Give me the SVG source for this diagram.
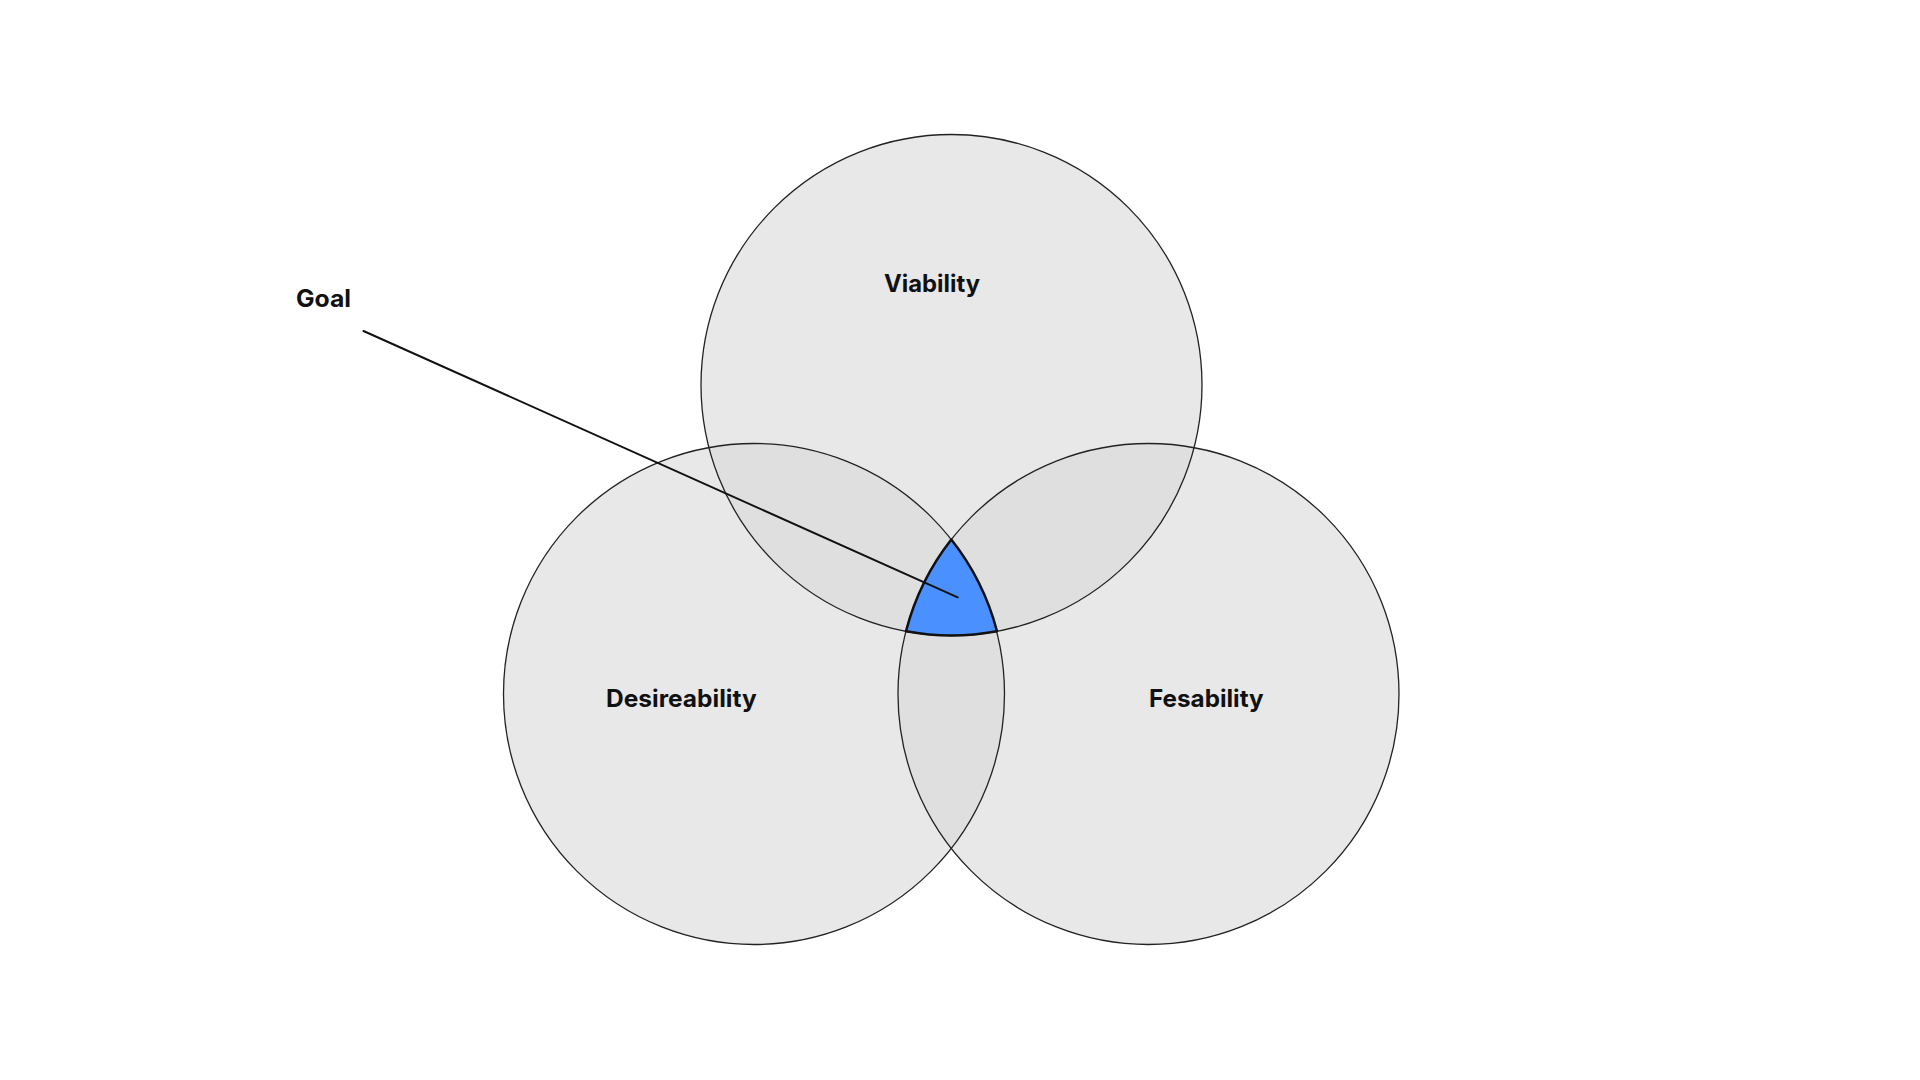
<svg xmlns="http://www.w3.org/2000/svg" width="1920" height="1080" viewBox="0 0 1920 1080">
  <defs>
    <circle id="c-viability" cx="951.5" cy="385" r="250.5"/>
    <circle id="c-desireability" cx="754" cy="694" r="250.5"/>
    <circle id="c-fesability" cx="1148.5" cy="694" r="250.5"/>
  </defs>
  <style>
    .fill { fill: #d9d9d9; fill-opacity: 0.6; stroke: none; }
    .outline { fill: none; stroke: #222222; stroke-width: 1.3; }
    .label { font-family: Inter, "Liberation Sans", sans-serif; font-weight: 700; font-size: 24px; fill: #111111; }
    .goal { fill: #4a90ff; stroke: #111111; stroke-width: 2.5; stroke-linejoin: round; }
    .connector { stroke: #111111; stroke-width: 2; fill: none; stroke-linecap: round; }
  </style>
  <rect x="0" y="0" width="1920" height="1080" fill="#ffffff"/>
  <g id="node-viability">
    <use href="#c-viability" class="fill"/>
  </g>
  <g id="node-desireability">
    <use href="#c-desireability" class="fill"/>
  </g>
  <g id="node-fesability">
    <use href="#c-fesability" class="fill"/>
  </g>
  <g id="outlines">
    <use href="#c-viability" class="outline"/>
    <use href="#c-desireability" class="outline"/>
    <use href="#c-fesability" class="outline"/>
  </g>
  <g id="node-intersection">
    <path class="goal" d="M 951.3 539.6 A 250.5 250.5 0 0 0 906 631.3 A 250.5 250.5 0 0 0 997 631.3 A 250.5 250.5 0 0 0 951.3 539.6 Z"/>
  </g>
  <g id="labels">
    <text class="label" x="884" y="292" textLength="96" lengthAdjust="spacingAndGlyphs">Viability</text>
    <text class="label" x="606" y="707" textLength="150.7" lengthAdjust="spacingAndGlyphs">Desireability</text>
    <text class="label" x="1149" y="707" textLength="114.7" lengthAdjust="spacingAndGlyphs">Fesability</text>
  </g>
  <g id="node-goal">
    <text class="label" x="296" y="307" textLength="55" lengthAdjust="spacingAndGlyphs">Goal</text>
  </g>
  <g id="connectors">
    <line class="connector" x1="363.5" y1="331" x2="957.7" y2="597.3"/>
  </g>
</svg>
